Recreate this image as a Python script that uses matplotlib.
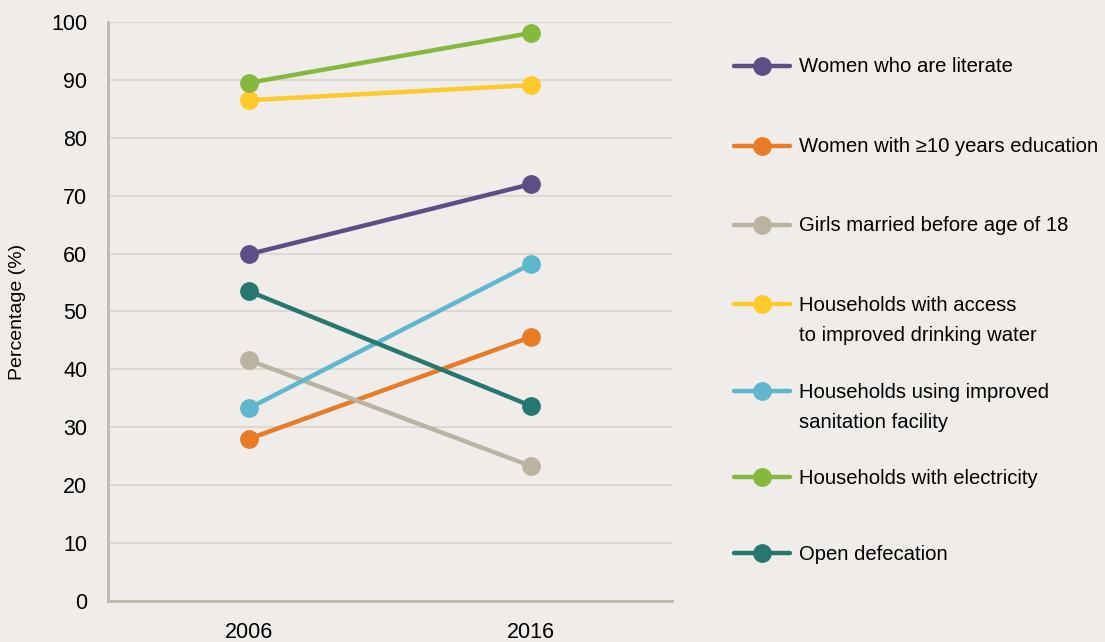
import matplotlib
matplotlib.use("Agg")
import matplotlib.pyplot as plt
from matplotlib.lines import Line2D

plt.rcParams['font.family'] = ['Liberation Sans', 'DejaVu Sans']

years = ["2006", "2016"]
labels = [
    "Women who are literate",
    "Women with \u226510 years education",
    "Girls married before age of 18",
    "Households with access\nto improved drinking water",
    "Households using improved\nsanitation facility",
    "Households with electricity",
    "Open defecation",
]
literate = [59.9, 72.0]
education = [28.0, 45.6]
married = [41.6, 23.3]
water = [86.5, 89.1]
sanitation = [33.3, 58.2]
electricity = [89.5, 98.1]
defecation = [53.5, 33.7]
series = [literate, education, married, water, sanitation, electricity, defecation]
colors = ["#5b4f86", "#e87b25", "#b9b4a2", "#fdca2a", "#5fb7cd", "#86b83d", "#277771"]

BG = "#efece9"
fig = plt.figure(figsize=(11.05, 6.42), dpi=100, facecolor=BG)
ax = fig.add_axes([0.0977, 0.0639, 0.5104, 0.9018], facecolor=BG)

xs = range(len(years))
for vals, c in zip(series, colors):
    ax.plot(xs, vals, color=c, lw=3.2, marker="o", ms=12.5, zorder=3,
            solid_capstyle="round")

ax.set_xlim(-0.5, 1.5)
ax.set_ylim(0, 100)
ax.set_yticks(range(0, 101, 10))
ax.set_xticks(list(xs))
ax.set_xticklabels(years)
ax.grid(axis="y", color="#d9d6d2", lw=1.2, zorder=0)
ax.set_axisbelow(True)
for s in ["top", "right"]:
    ax.spines[s].set_visible(False)
for s in ["left", "bottom"]:
    ax.spines[s].set_color("#bcb9a6")
    ax.spines[s].set_linewidth(2)
ax.tick_params(length=0, labelsize=15.5, colors="black")
ax.tick_params(axis="y", pad=15)
ax.tick_params(axis="x", pad=15)
ax.set_ylabel("Percentage (%)", fontsize=14, labelpad=18)

# legend, drawn by hand so the handle sits on the first text line
leg_y = [66, 146, 225, 304, 391, 477, 553]
for lab, c, yp in zip(labels, colors, leg_y):
    yf = 1 - yp / 642
    fig.add_artist(Line2D([734 / 1105, 790 / 1105], [yf, yf], color=c, lw=3.2,
                          solid_capstyle="round", transform=fig.transFigure))
    fig.add_artist(Line2D([762 / 1105], [yf], color=c, marker="o", ms=12.5,
                          transform=fig.transFigure))
    if "\n" in lab:
        fig.text(799 / 1105, yf + 8 / 642, lab, fontsize=14.6, va="top", linespacing=1.72)
    else:
        fig.text(799 / 1105, yf - 1 / 642, lab, fontsize=14.6, va="center")

fig.savefig("out.png", dpi=100, facecolor=BG)
